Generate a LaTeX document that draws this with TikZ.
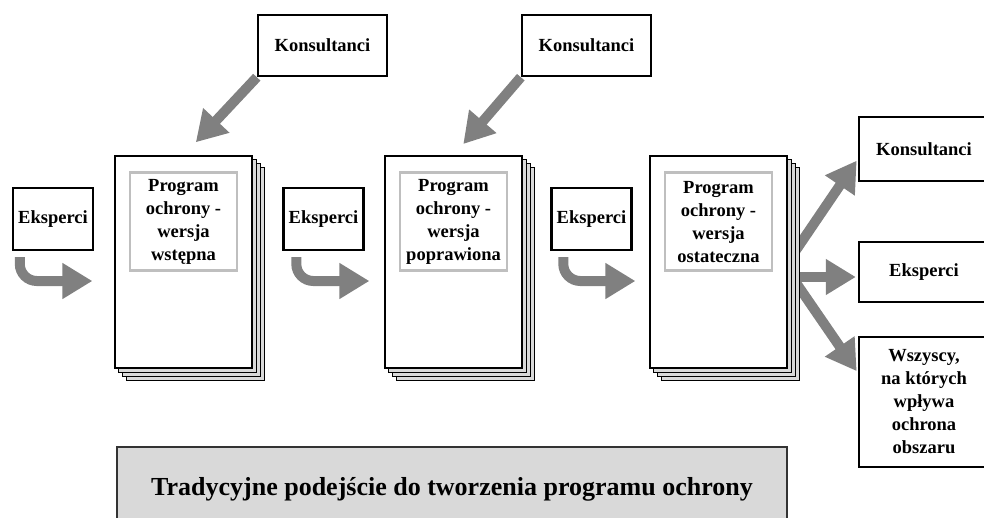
\documentclass[tikz,border=0pt]{standalone}
\usepackage{fontspec}
\setmainfont{Liberation Serif}
\usetikzlibrary{arrows.meta, positioning, backgrounds}
\definecolor{arrgray}{RGB}{128,128,128}
\definecolor{pagegray}{RGB}{217,217,217}
\definecolor{framegray}{RGB}{191,191,191}

\begin{document}
\begin{tikzpicture}[
  x=1pt, y=-1pt,
  font=\fontsize{18.5}{23}\selectfont\bfseries,
  actor/.style={draw=black, fill=white, line width=2.4pt, align=center,
                minimum width=80pt, minimum height=62pt, inner sep=2pt},
  kons/.style={actor, minimum width=129pt, minimum height=61pt},
  page/.style={draw=black, fill=white, line width=1.2pt,
               minimum width=137pt, minimum height=212pt},
  pageback/.style={draw=black, fill=pagegray, line width=1.2pt},
  inbox/.style={draw=framegray, line width=2.5pt, align=center,
                minimum width=107pt, minimum height=98pt},
  title/.style={draw=black!80, fill=pagegray, line width=1.5pt,
                minimum width=670pt, minimum height=84pt,
                font=\fontsize{26}{30}\selectfont\bfseries},
  arr/.style={-{Triangle[length=30pt,width=34pt]}, line width=10pt, draw=arrgray}
]
\useasboundingbox (0,0) rectangle (984,517);

% first version
\node[actor] (eks1) at (53,219) {Eksperci};
\node[page] (doc1) at (183.5,262) {};
\node[inbox, below=16pt of doc1.north] (txt1) {Program\\ochrony -\\wersja\\wstępna};
\node[kons] (kons1) at (322.5,45.5) {Konsultanci};

% second version
\node[actor] (eks2) at (323.5,219) {Eksperci};
\node[page] (doc2) at (453.5,262) {};
\node[inbox, below=16pt of doc2.north] (txt2) {Program\\ochrony -\\wersja\\poprawiona};
\node[kons] (kons2) at (586.5,45.5) {Konsultanci};

% final version
\node[actor] (eks3) at (591.5,219) {Eksperci};
\node[page] (doc3) at (718.5,262) {};
\node[inbox, below=16pt of doc3.north] (txt3) {Program\\ochrony -\\wersja\\ostateczna};

% receivers
\node[actor, minimum width=130pt, minimum height=64pt] (kons3) at (924,149) {Konsultanci};
\node[actor, minimum width=130pt, minimum height=60pt] (eks4) at (924,272) {Eksperci};
\node[actor, minimum width=130pt, minimum height=130pt] (wsz) at (924,402)
  {Wszyscy,\\na których\\wpływa\\ochrona\\obszaru};

\node[title] (cap) at (452,489) {Tradycyjne podejście do tworzenia programu ochrony};

\begin{scope}[on background layer]
\draw[arr, shorten >=18pt] (kons1.south west) -- (doc1.north);
\draw[arr, shorten >=15pt] (kons2.south west) -- (doc2.north);
\foreach \e/\d/\sx/\tx in {eks1/doc1/8/22, eks2/doc2/14/15, eks3/doc3/13/14}
  \draw[arr, rounded corners=17pt] ([xshift=\sx pt,yshift=-6pt]\e.south west)
    |- ([xshift=-\tx pt,yshift=-19pt]\d.west);
\draw[arr, shorten >=2pt] ([xshift=3pt,yshift=4pt]doc3.east) -- ([yshift=-10pt]kons3.west);
\draw[arr, shorten >=2pt] ([xshift=3pt,yshift=-15pt]doc3.east) -- ([yshift=-5pt]eks4.west);
\draw[arr, shorten >=2pt] ([xshift=3pt,yshift=-13pt]doc3.east) -- ([yshift=-37pt]wsz.north west);
\foreach \d in {doc1,doc2,doc3}
  \foreach \k in {12,8,4}
    \draw[pageback] ([shift={(\k pt,-\k pt)}]\d.north west)
      rectangle ([shift={(\k pt,-\k pt)}]\d.south east);
\end{scope}
\end{tikzpicture}
\end{document}
